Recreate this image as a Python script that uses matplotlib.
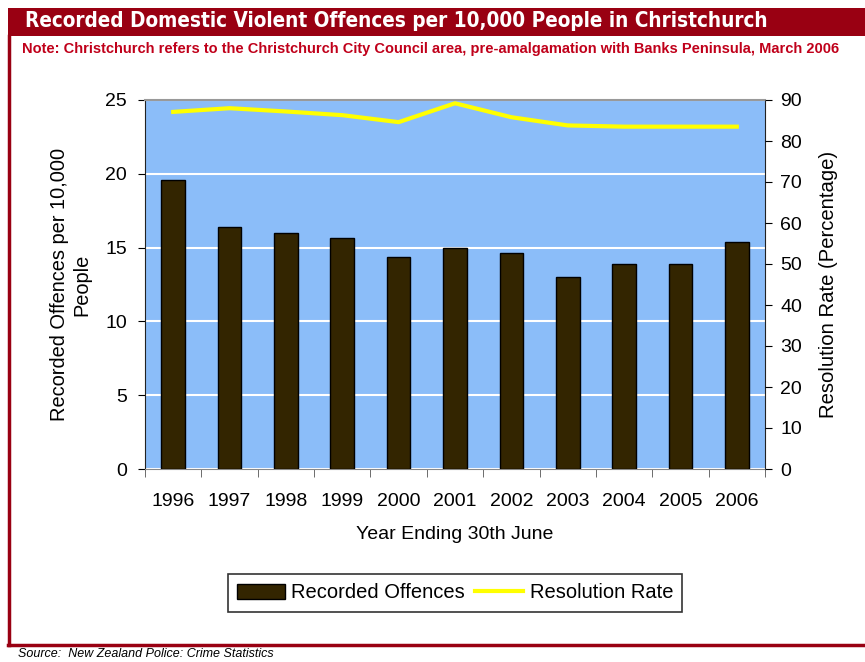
import matplotlib.pyplot as plt
import numpy as np
from matplotlib.patches import Rectangle
from matplotlib.lines import Line2D

# data
years = ['1996', '1997', '1998', '1999', '2000', '2001', '2002', '2003', '2004', '2005', '2006']
offences = [19.6, 16.4, 16.0, 15.65, 14.35, 15.0, 14.65, 13.0, 13.9, 13.9, 15.35]
resolution = [87.1, 88.0, 87.2, 86.3, 84.6, 89.2, 85.8, 83.8, 83.5, 83.5, 83.5]

plt.rcParams['font.family'] = ['Liberation Sans', 'DejaVu Sans']

W, H = 865, 662
fig = plt.figure(figsize=(W / 100, H / 100), dpi=100)

# title band and red frame
dark_red = '#990012'
fig.patches.append(Rectangle((8 / W, 1 - 36 / H), 1 - 8 / W, 28 / H, transform=fig.transFigure,
                             facecolor=dark_red, edgecolor='none'))
fig.add_artist(Line2D([9 / W, 9 / W], [1 - 36 / H, 1 - 645 / H], color=dark_red, lw=2.5))
fig.add_artist(Line2D([8 / W, 1], [1 - 645 / H, 1 - 645 / H], color=dark_red, lw=2.5))
fig.text(25 / W, 1 - 21 / H, 'Recorded Domestic Violent Offences per 10,000 People in Christchurch',
         color='white', fontsize=14.9, fontweight='bold', va='center', ha='left',
         family='DejaVu Sans', fontstretch='condensed')
fig.text(22 / W, 1 - 49 / H,
         'Note: Christchurch refers to the Christchurch City Council area, pre-amalgamation with Banks Peninsula, March 2006',
         color='#c0001a', fontsize=10.5, fontweight='bold', va='center', ha='left')
fig.text(18 / W, 1 - 654 / H, 'Source:  New Zealand Police: Crime Statistics',
         fontsize=9, style='italic', va='center', ha='left')

# main axes
ax = fig.add_axes([145 / W, 1 - 469 / H, 620 / W, 369 / H])
ax.set_facecolor('#8bbdf9')
x = np.arange(len(years))
ax.bar(x, offences, width=0.42, color='#332500', edgecolor='black', linewidth=1, zorder=3,
       label='Recorded Offences')
ax.set_xlim(-0.5, len(years) - 0.5)
ax.set_ylim(0, 25)
ax.set_yticks(range(0, 26, 5))
ax.grid(axis='y', color='white', lw=1.5, zorder=1)
ax.set_axisbelow(True)
ax.set_xticks(x)
ax.set_xticklabels(years, fontsize=14)
ax.set_xticks(np.arange(-0.5, len(years)), minor=True)
ax.tick_params(axis='x', which='major', length=0, pad=17)
ax.tick_params(axis='x', which='minor', length=6, color='#555555', direction='out')
ax.tick_params(axis='y', labelsize=14, length=5, direction='out', pad=8)
ax.set_ylabel('Recorded Offences per 10,000\nPeople', fontsize=14.4, labelpad=10)
ax.set_xlabel('Year Ending 30th June', fontsize=14, labelpad=12)
ax.spines['top'].set_color('#999999')
ax.spines['top'].set_linewidth(1.5)
ax.spines['bottom'].set_color('#888888')
ax.spines['left'].set_color('#222222')
ax.spines['right'].set_color('#222222')

ax2 = ax.twinx()
ax2.plot(x, resolution, color='#ffff00', lw=3, label='Resolution Rate', zorder=4)
ax2.set_ylim(0, 90)
ax2.set_yticks(range(0, 91, 10))
ax2.tick_params(axis='y', labelsize=14, length=5, direction='out', pad=6)
ax2.set_ylabel('Resolution Rate (Percentage)', fontsize=14.6, labelpad=12)
for s in ax2.spines.values():
    s.set_visible(False)

handles = [Rectangle((0, 0), 1, 1, facecolor='#332500', edgecolor='black'),
           Line2D([], [], color='#ffff00', lw=3)]
leg = fig.legend(handles, ['Recorded Offences', 'Resolution Rate'], ncol=2,
                 loc='center', bbox_to_anchor=(455 / W, 1 - 593 / H), fontsize=14.5,
                 frameon=True, fancybox=False, edgecolor='black', handlelength=2.4,
                 handletextpad=0.3, columnspacing=0.5, borderpad=0.45)
leg.get_frame().set_linewidth(1.2)

fig.savefig('out.png', dpi=100)
